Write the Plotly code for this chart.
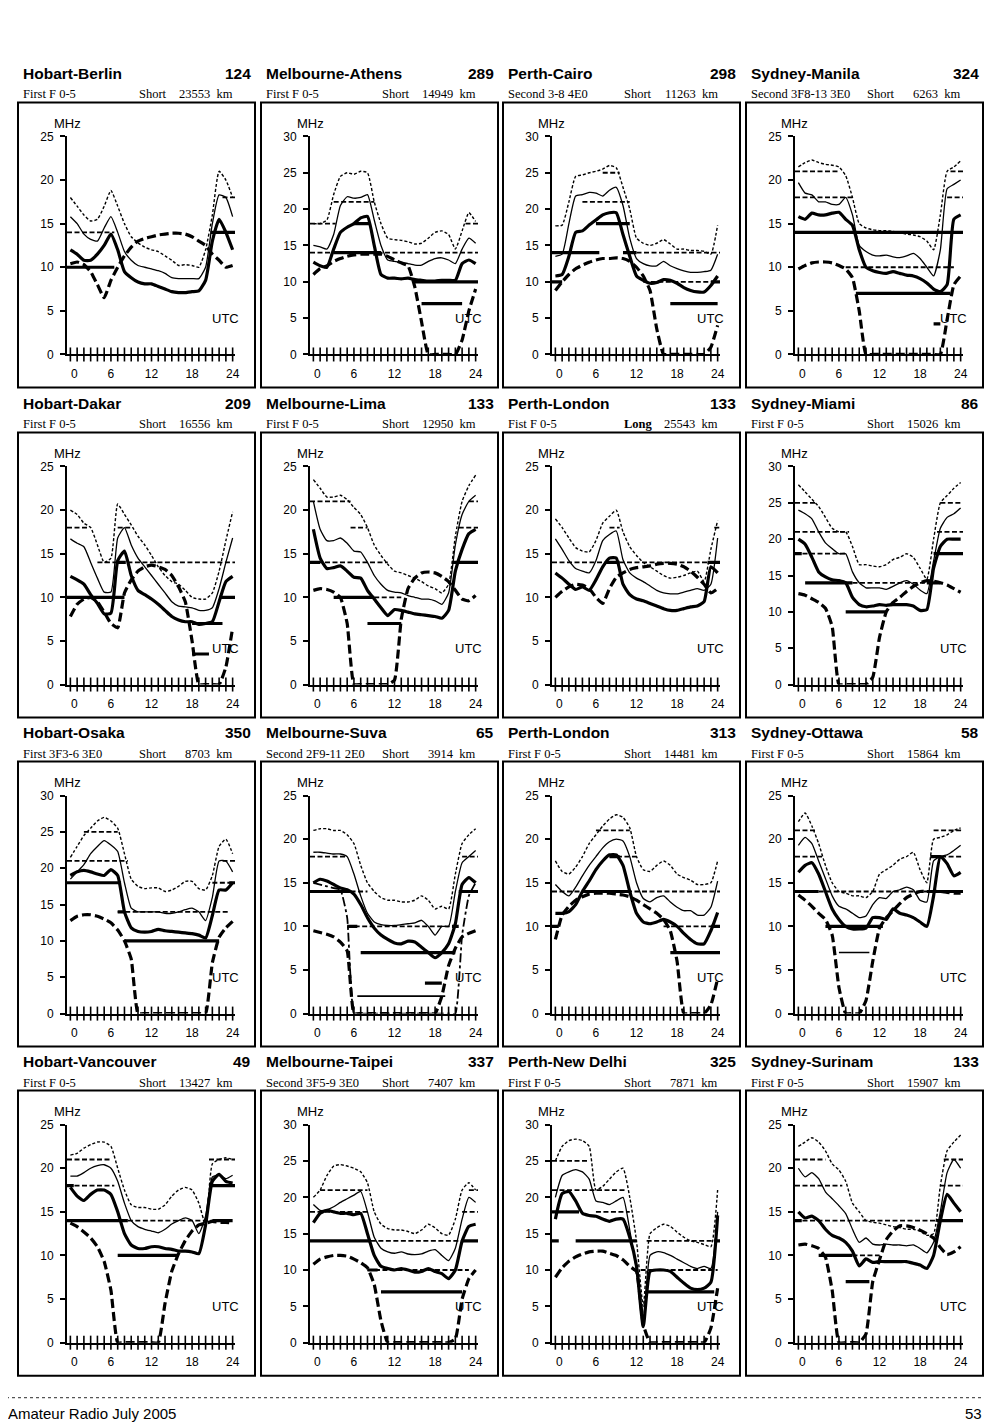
import plotly.graph_objects as go

HOURS = list(range(25))

TITLES = ["Hobart-Berlin", "Melbourne-Athens", "Perth-Cairo", "Sydney-Manila",
          "Hobart-Dakar", "Melbourne-Lima", "Perth-London", "Sydney-Miami",
          "Hobart-Osaka", "Melbourne-Suva", "Perth-London", "Sydney-Ottawa",
          "Hobart-Vancouver", "Melbourne-Taipei", "Perth-New Delhi", "Sydney-Surinam"]
NUMBERS = [124, 289, 298, 324, 209, 133, 133, 86, 350, 65, 313, 58, 49, 337, 325, 133]
MODES = ["First F 0-5", "First F 0-5", "Second 3-8 4E0", "Second 3F8-13 3E0",
         "First F 0-5", "First F 0-5", "Fist F 0-5", "First F 0-5",
         "First 3F3-6 3E0", "Second 2F9-11 2E0", "First F 0-5", "First F 0-5",
         "First F 0-5", "Second 3F5-9 3E0", "First F 0-5", "First F 0-5"]
PATHS = ["Short", "Short", "Short", "Short", "Short", "Short", "Long", "Short",
         "Short", "Short", "Short", "Short", "Short", "Short", "Short", "Short"]
DISTANCES = [23553, 14949, 11263, 6263, 16556, 12950, 25543, 15026,
             8703, 3914, 14481, 15864, 13427, 7407, 7871, 15907]
YMAX = [25, 30, 30, 25, 25, 25, 25, 30, 30, 25, 25, 25, 25, 30, 30, 25]

# band segments: (MHz, from hour, to hour, style) T=thick, d=dashed, t=thin
# Hobart-Berlin
HBE_UP = [18, 17, 16, 15.3, 15.5, 17, 18.8, 17, 15, 13.5, 12.8, 12.3, 12, 11.8, 11.3, 10.8, 10.2, 10.3, 10.2, 10, 12, 16, 21, 20, 18]
HBE_MUF = [15.8, 15, 13.8, 13.2, 13, 14.5, 15.8, 14, 11.8, 10.8, 10.2, 10, 9.8, 9.6, 9.3, 8.8, 8.7, 8.7, 8.7, 8.7, 10, 15, 18.3, 18, 15.8]
HBE_FOT = [12, 11.5, 10.8, 10.8, 11.5, 12.5, 13.8, 12, 9.5, 8.8, 8.3, 8.1, 8.1, 7.8, 7.5, 7.2, 7.1, 7.1, 7.2, 7.3, 8.5, 13, 15.5, 14, 12]
HBE_LUF = [10.4, 10.6, 10.3, 9.5, 8, 6.5, 8.5, 10, 11.3, 12.3, 13, 13.3, 13.5, 13.7, 13.8, 13.9, 13.9, 13.8, 13.5, 13, 12.5, 11.5, 10.8, 10, 10.2]
HBE_BANDS = [(14, -0.5, 6.5, 'd'), (10, -0.5, 6.5, 'T'), (14, 20.7, 24.5, 'T'), (18, 22.5, 24.5, 'd')]

# Melbourne-Athens
MAT_UP = [18, 18, 18.5, 22, 24.5, 25, 24.8, 25.2, 25, 21, 18, 16, 15.8, 15.7, 15.5, 15.2, 15.3, 16, 16.8, 17, 16.5, 14.5, 17, 19.5, 18.3]
MAT_MUF = [15, 14.8, 14.5, 16.5, 20.5, 21.7, 21.5, 21.6, 22, 18.5, 15, 13, 12.8, 12.7, 12.5, 12.3, 12.3, 12.8, 13.2, 13.3, 13, 12.5, 14.5, 16, 15.3]
MAT_FOT = [12.7, 12.2, 12, 14.5, 16.8, 17.5, 18, 18.8, 19, 15, 11, 10.5, 10.5, 10.4, 10.5, 10.3, 10.2, 10.1, 10.1, 10.2, 10.2, 10.2, 12.5, 13, 12.5]
MAT_LUF = [11, 11.8, 12.2, 12.8, 13.2, 13.5, 13.7, 13.8, 13.8, 13.8, 13.8, 13.5, 13, 12.6, 12.2, 9.3, 4.5, 0, 0, 0, 0, 0, 2, 6, 9]
MAT_BANDS = [(18, -0.5, 3.3, 'd'), (21, 3, 9, 'd'), (18, 6, 8.5, 'T'), (14, -0.5, 24.5, 'd'), (14, 3, 10, 'T'),
             (10, 15, 24.5, 'T'), (7, 16, 22, 'T'), (18, 22.5, 24.5, 'd')]

# Perth-Cairo
PCA_UP = [17.7, 17.8, 21, 24.5, 24.7, 25, 25.2, 25.5, 26, 25.7, 23, 20, 16, 15.3, 15, 15.3, 15.8, 15.2, 14.5, 14.5, 14.3, 14.3, 14.2, 13.8, 17.8]
PCA_MUF = [13.5, 13.8, 18, 21.8, 22, 22.3, 22.2, 21.8, 22.6, 23, 20.5, 16, 13.2, 12.5, 12.2, 12.2, 12.8, 12.2, 11.8, 11.5, 11.3, 11.3, 11.4, 11.6, 13.8]
PCA_FOT = [10.8, 11, 13.5, 16.8, 17, 17.8, 18.5, 19.2, 19.5, 19.5, 16.5, 13.5, 10.8, 10.2, 9.8, 9.9, 10.3, 10.2, 9.8, 9.2, 8.8, 8.6, 8.6, 9.5, 10.8]
PCA_LUF = [8.8, 10, 11, 11.8, 12.3, 12.7, 13, 13.2, 13.2, 13.3, 13.2, 12.8, 12, 10.8, 8.8, 3.5, 0, 0, 0, 0, 0, 0, 0, 1, 4]
PCA_BANDS = [(25, 7, 9.5, 'd'), (21, 4, 11, 'd'), (18, 6, 11, 'T'), (14, -0.5, 6.5, 'T'), (14, 10, 12, 'T'),
             (14, 12, 24.5, 'd'), (10, -0.5, 1, 'T'), (10, 13, 24.5, 'd'), (10, 23, 24.5, 'T'), (7, 17, 24, 'T')]

# Sydney-Manila
SMA_UP = [21.5, 22, 22.3, 22, 21.8, 21.7, 21.5, 20.5, 18, 15, 14.5, 14.3, 14.2, 14.2, 14.1, 14, 13.8, 13.7, 13.5, 13, 12, 16, 21, 21.5, 22.2]
SMA_MUF = [19.7, 18.5, 18.3, 17.5, 17.5, 17.2, 17.2, 18, 16, 12.5, 11.8, 11.4, 11.3, 11.4, 11.2, 11.1, 11.3, 11.6, 11, 10, 9, 12, 19, 19.5, 20]
SMA_FOT = [15.8, 15.5, 16.2, 16, 16, 16.2, 16.3, 15.5, 14.8, 12, 10, 9.6, 9.4, 9.3, 9.5, 9.3, 9.1, 9, 8.7, 8.2, 7.5, 7.2, 8, 15.5, 16]
SMA_LUF = [9.8, 10.2, 10.5, 10.6, 10.6, 10.5, 10.2, 9.8, 8.8, 5, 0, 0, 0, 0, 0, 0, 0, 0, 0, 0, 0, 0, 4, 8, 9]
SMA_BANDS = [(21, -0.5, 6, 'd'), (18, -0.5, 8, 'd'), (14, -0.5, 24.5, 'T'), (10, 7, 23, 'd'), (7, 8.5, 22.5, 'T'),
             (3.5, 20, 21, 'T'), (18, 22, 24.5, 'd'), (21, 22.5, 24.5, 'd')]

# Hobart-Dakar
HDA_UP = [20, 19.5, 18.5, 18, 16, 14, 14.5, 20.7, 19.5, 18.3, 17, 16, 14.8, 13.5, 12.5, 11.8, 11.5, 10.8, 10, 9.8, 9.8, 10.5, 13, 16.5, 19.8]
HDA_MUF = [16.7, 16.2, 15.8, 14, 12.2, 10.6, 10.6, 16.8, 18, 16, 14.5, 13.5, 12.5, 11.5, 10.5, 9.5, 9, 8.9, 8.8, 8.5, 8.5, 8.8, 11, 14, 16.8]
HDA_FOT = [12.4, 12, 11.5, 10.3, 9.3, 8.1, 8.2, 14.2, 15.3, 12.5, 10.8, 10.3, 9.8, 9.2, 8.5, 7.8, 7.4, 7.2, 7.2, 6.9, 7, 7.2, 9.5, 11.8, 12.4]
HDA_LUF = [7.8, 9.2, 9.8, 10, 9.5, 8.3, 7, 6.5, 10.5, 12, 13, 13.5, 13.7, 13.5, 13.2, 12.5, 11.2, 9.5, 5, 0, 0, 0, 0, 2, 6.5]
HDA_BANDS = [(18, -0.5, 2.5, 'd'), (14, 4, 24.5, 'd'), (14, 7, 8.2, 'T'), (10, -0.5, 8, 'T'), (10, 22, 24.5, 'T'),
             (7, 18, 22.5, 'T'), (3.5, 18, 20.5, 'T'), (18, 7, 9, 'd')]

# Melbourne-Lima
MLI_UP = [23.5, 22.5, 21.5, 21.5, 21.7, 21.2, 20.3, 19.5, 18, 16, 14.8, 13.8, 13, 12.8, 12.5, 12.2, 11.8, 11.3, 11, 10.5, 11.5, 17, 21, 22.8, 24]
MLI_MUF = [21, 17.8, 16.5, 16.5, 16.8, 16.2, 15.3, 15.2, 14, 12.5, 11.5, 10.8, 10.6, 10.5, 10.2, 10, 9.8, 9.8, 9.6, 9.2, 10.5, 16, 19.5, 21, 21.7]
MLI_FOT = [17.8, 14.5, 13.3, 13.4, 13.6, 13, 12.3, 12.2, 10.8, 9.8, 8.8, 7.9, 8.6, 8.5, 8.3, 8.1, 8, 7.9, 7.8, 7.6, 8.5, 13, 15.5, 17.3, 17.8]
MLI_LUF = [10.8, 11, 10.9, 10.6, 10, 7, 0, 0, 0, 0, 0, 0, 0.5, 7.5, 11, 12.2, 12.8, 12.9, 12.8, 12.4, 11.8, 10.8, 9.8, 9.6, 10.2]
MLI_BANDS = [(21, -0.5, 5.5, 'd'), (18, 5.5, 8, 'd'), (14, -0.5, 11, 'd'), (14, -0.5, 1, 'T'), (14, 20.5, 24.5, 'T'),
             (10, 3, 9, 'T'), (10, 9, 13, 'd'), (7, 8, 13, 'T'), (18, 21.5, 24.5, 'd'), (21, 23, 24.5, 'd')]

# Perth-London (long path)
PLL_UP = [19, 18, 16.8, 15.7, 15.3, 15.2, 16.5, 18.5, 19.3, 20, 17.5, 15.8, 14.8, 14, 13.5, 13, 12.5, 12.2, 12.3, 12.5, 12.8, 13, 11.8, 15.5, 18.8]
PLL_MUF = [16.7, 15.5, 14.2, 13.3, 13, 12.8, 14.2, 16.5, 17.2, 17.6, 14.3, 12.8, 12.2, 11.8, 11.3, 10.8, 10.5, 10.4, 10.4, 10.6, 10.8, 11, 10.8, 11.5, 16.8]
PLL_FOT = [12.8, 12.2, 11.5, 10.9, 11.2, 10.8, 12, 13.5, 14.5, 14.5, 11.5, 10.3, 9.8, 9.6, 9.3, 9, 8.7, 8.5, 8.5, 8.7, 8.9, 9, 9.5, 13.5, 12.8]
PLL_LUF = [10, 10.7, 11.2, 11.5, 11.4, 11, 10, 9.3, 11, 12.3, 12.8, 13.2, 13.4, 13.5, 13.6, 13.8, 13.9, 13.9, 13.8, 13.5, 13, 12.3, 11.5, 10.5, 11]
PLL_BANDS = [(14, -0.5, 24.5, 'd'), (14, 7.5, 9.5, 'T'), (14, 22.5, 24.5, 'T'), (18, 8, 9.5, 'd'), (18, 23.5, 24.5, 'd')]

# Sydney-Miami
SMI_UP = [27.5, 26.5, 25.5, 24.5, 23, 21.5, 21, 21, 19, 16.5, 16.5, 16.3, 16.2, 16.5, 17.2, 17.5, 18, 17.5, 16, 14.5, 20, 25, 26, 27, 27.8]
SMI_MUF = [24, 23.5, 22.8, 21, 19.5, 18.7, 18, 18, 15.5, 14, 13.3, 13.3, 13.3, 13.1, 13.5, 14, 14.3, 13.8, 13, 12.5, 17, 21.5, 23, 23.5, 24.3]
SMI_FOT = [20, 19.3, 17.5, 15.5, 14.8, 14.4, 14.3, 14, 12, 11, 10.7, 10.8, 11, 10.9, 11, 11, 11, 10.8, 10.2, 10.3, 16, 19, 20, 20, 20]
SMI_LUF = [12.5, 12.3, 11.8, 11.3, 10.5, 8, 0, 0, 0, 0, 0, 1, 6.5, 10, 11.3, 12, 12.8, 13.5, 14, 14.3, 14.2, 14, 13.7, 13.2, 12.7]
SMI_BANDS = [(25, -0.5, 2.5, 'd'), (21, -0.5, 7.5, 'd'), (18, -0.5, 7, 'd'), (18, -0.5, 0.5, 'T'), (14, 1, 8, 'T'),
             (14, 8, 20, 'd'), (14, 19, 21, 'T'), (10, 7, 13, 'T'), (18, 20, 24.5, 'T'), (21, 20.5, 24.5, 'd'), (25, 21, 24, 'd')]

# Hobart-Osaka
HOS_UP = [21.5, 23, 24.5, 25.5, 26.5, 27, 26.5, 25.5, 22, 18.5, 17.5, 17.2, 17.3, 17.3, 16.8, 17, 17.5, 18.2, 18.2, 17.2, 17, 19, 23, 24, 22]
HOS_MUF = [18.5, 19.5, 20.5, 22, 23, 23.8, 23.2, 22.3, 18, 14.5, 14, 14, 14, 14, 13.8, 13.8, 14, 14.3, 14.5, 14, 12.8, 16, 21, 21, 19.5]
HOS_FOT = [19, 19.5, 19.7, 19.5, 19.2, 19, 19.8, 19, 14, 11.8, 11.3, 11.2, 11.3, 11.6, 11.4, 11.3, 11.2, 11.1, 11, 10.8, 10.4, 13.5, 17, 17, 18]
HOS_LUF = [12.8, 13.4, 13.6, 13.6, 13.4, 13, 12.5, 11.5, 10, 7.5, 0, 0, 0, 0, 0, 0, 0, 0, 0, 0, 0, 7, 10.5, 11.8, 12.7]
HOS_BANDS = [(21, -0.5, 8.5, 'd'), (18, -0.5, 7.5, 'T'), (25, 2, 7, 'd'), (14, 7, 23.5, 'd'), (14, 7, 8, 'T'),
             (10, 8, 22, 'T'), (18, 21, 24.5, 'd'), (18, 23.5, 24.5, 'T'), (21, 22.5, 24.5, 'd')]

# Melbourne-Suva
MSU_UP = [21, 21.2, 21.2, 21, 21, 20.5, 19.5, 17, 15, 14, 13.3, 13, 13, 12.8, 12.8, 13, 13.5, 13, 12, 12.3, 12, 16, 19.5, 20.5, 21.2]
MSU_MUF = [18.5, 18.5, 18.4, 18.3, 18.3, 18, 16, 13.5, 11.5, 10.5, 10.2, 10.1, 10.1, 10.2, 10.3, 10.4, 10.7, 10, 9, 10, 10, 14, 17.3, 18, 18.7]
MSU_FOT = [15, 15.4, 15.2, 14.8, 14.4, 14.2, 13.7, 12.5, 11, 9.8, 9, 8.5, 8.1, 8, 8.3, 8.2, 7.6, 7, 6.4, 7, 8, 10.3, 14.8, 15.6, 15]
MSU_LUF = [9.5, 9.3, 9.1, 8.8, 8.2, 7.2, 0, 0, 0, 0, 0, 0, 0, 0, 0, 0, 0, 0, 0, 2, 5.5, 7.5, 8.8, 9.2, 9.5]
MSU_ALT = [15, 14.8, 14.6, 14.4, 14.2, 11, 0, 0, 0, 0, 0, 0, 0, 0, 0, 0, 0, 0, 0, 0, 0, 0, 9, 13.5, 15]
MSU_BANDS = [(18, -0.5, 5, 'd'), (14, -0.5, 5.5, 'T'), (14, 5.5, 8, 'd'), (10, 5, 21.5, 'd'), (10, 5, 6.5, 'T'),
             (10, 20.5, 21.5, 'T'), (7, 7, 21, 'T'), (3.5, 16.5, 19, 'T'), (2, 6.5, 19.5, 't'), (14, 21.5, 24.5, 'T'),
             (18, 22, 24.5, 'd')]

# Perth-London (short path)
PLS_UP = [17.5, 16.3, 16, 16.8, 18, 19.5, 20.5, 21.5, 22.3, 22.8, 22.5, 21.3, 18, 16.5, 16.3, 17, 17.5, 17, 16, 15.6, 15.3, 14.8, 14.8, 15, 17.5]
PLS_MUF = [14.8, 14, 13.5, 14.5, 15.8, 17, 18, 19, 19.7, 20, 19.8, 18, 15, 13.2, 12.8, 13.3, 13.5, 12.8, 12.2, 11.8, 11.8, 11.3, 11.3, 12.2, 15.2]
PLS_FOT = [11.5, 11.5, 11.7, 12.5, 14, 15.2, 16.5, 17.5, 18.2, 18.2, 17, 14, 11.5, 10.5, 10.3, 10.5, 10.8, 10.5, 10, 9.2, 8.5, 8, 8, 9.5, 11.6]
PLS_LUF = [8.5, 11.3, 12.3, 13, 13.4, 13.7, 13.8, 13.8, 13.8, 13.7, 13.6, 13.4, 13, 12.5, 12, 11.5, 10.8, 9.5, 6, 0, 0, 0, 0, 1, 4]
PLS_BANDS = [(21, 6, 11, 'd'), (18, 8, 12, 'd'), (18, 8, 9.5, 'T'), (14, -0.5, 24.5, 'd'), (14, 4, 11, 'T'),
             (10, -0.5, 0.5, 'T'), (10, 16, 24.5, 'd'), (10, 23, 24.5, 'T'), (7, 17, 24.5, 'T')]

# Sydney-Ottawa
SOT_UP = [22, 23, 21.5, 19.5, 17, 15, 14, 13.8, 13.5, 13.5, 13.3, 14, 16, 16.5, 17, 17.7, 18, 18.5, 16.5, 15, 20, 20.2, 20.5, 21, 21.3]
SOT_MUF = [19.3, 20.2, 19.5, 17.5, 15.5, 13.5, 12.3, 12, 11.5, 11, 11.2, 12.5, 13.3, 13.2, 14, 14.2, 14.5, 14.2, 13, 12.8, 17.5, 18, 18.2, 18.7, 19.3]
SOT_FOT = [16.2, 17, 17.3, 16, 14, 12, 10.8, 10, 9.7, 9.7, 9.8, 11, 11, 10.8, 12, 11.5, 11.3, 11, 10.5, 10, 13.5, 18, 17.2, 15.8, 16.2]
SOT_LUF = [13.6, 13, 12.3, 11.5, 10.8, 9, 3, 0, 0, 0, 1.5, 6, 9.8, 11, 11.8, 12.6, 13.3, 13.7, 14, 14, 14, 14, 13.9, 13.8, 13.8]
SOT_BANDS = [(21, -0.5, 2.5, 'd'), (18, -0.5, 3.5, 'd'), (14, -0.5, 3, 'T'), (14, 3, 24.5, 'd'), (14, 19, 24.5, 'T'),
             (10, 4, 12.5, 'T'), (7, 6, 10.5, 't'), (18, 20, 24.5, 'd'), (18, 19.5, 21, 'T'), (21, 20, 24.5, 'd')]

# Hobart-Vancouver
HVA_UP = [21.5, 21.7, 22.3, 22.7, 23, 23, 22.5, 20, 17.5, 15.8, 15.5, 15.5, 15.3, 15.3, 15.8, 16.8, 17.5, 17.8, 17.5, 16, 13.5, 20.5, 21, 21.2, 21]
HVA_MUF = [19.1, 19.1, 19.5, 20, 20.3, 20.4, 20, 18.5, 16, 14, 13.3, 13, 12.8, 12.6, 13, 13.6, 14, 14.3, 14, 12.5, 14.5, 19, 19.2, 18.8, 19.2]
HVA_FOT = [17.8, 16.8, 16.3, 17, 17.5, 17.5, 17, 15, 12.5, 11.2, 10.8, 10.8, 11, 11, 10.8, 10.7, 10.5, 10.5, 10.4, 10.2, 13.5, 18.5, 19.3, 18.5, 18.3]
HVA_LUF = [13.7, 13.3, 12.7, 12, 11, 9.3, 6, 0, 0, 0, 0, 0, 0, 0, 4.5, 8.2, 10.2, 11.7, 12.8, 13.5, 13.7, 13.9, 13.8, 13.8, 13.7]
HVA_BANDS = [(21, -0.5, 6, 'd'), (18, -0.5, 6.5, 'd'), (18, -0.5, 0.5, 'T'), (14, -0.5, 8.5, 'T'), (14, 8.5, 21, 'd'),
             (14, 21, 24, 'T'), (10, 7, 16, 'T'), (18, 20.5, 24.5, 'T'), (21, 20.5, 24.5, 'd')]

# Melbourne-Taipei
MTA_UP = [20, 21, 23, 24.3, 24.5, 24.3, 24, 23.5, 22, 18, 16.3, 15.7, 15.5, 15.5, 15.3, 15, 15.5, 16.3, 15.8, 15, 14.8, 17, 21, 22, 21]
MTA_MUF = [19, 18.2, 18.3, 18.7, 19.3, 19.8, 20.3, 20.8, 18, 14.5, 13, 12.5, 12.3, 12.5, 12.2, 12.1, 12.2, 12.6, 12.8, 12, 11.3, 13, 17, 20, 19.3]
MTA_FOT = [16.5, 17.8, 18.2, 18, 17.8, 17.8, 17.6, 17.8, 15, 12, 10.5, 10.2, 10, 10.2, 10, 9.7, 9.8, 10.2, 9.8, 9.5, 8.8, 10, 14, 16, 16.3]
MTA_LUF = [10.8, 11.5, 11.8, 12, 12, 11.9, 11.5, 11, 10.3, 8, 3, 0, 0, 0, 0, 0, 0, 0, 0, 0, 0, 0.5, 6, 8.8, 10]
MTA_BANDS = [(21, 1, 8, 'd'), (18, -0.5, 8, 'd'), (14, -0.5, 8.5, 'T'), (14, 8.5, 22, 'd'), (14, 22, 24.5, 'T'),
             (10, 8, 23, 'd'), (10, 8, 9.5, 'T'), (7, 10, 22, 'T'), (18, 22, 24.5, 'd'), (21, 23, 24.5, 'd')]

# Perth-New Delhi
PND_UP = [25, 27, 27.8, 28, 27.8, 27, 21, 21.5, 22.5, 23.5, 24, 20, 14, 5, 15, 15.8, 16.3, 16, 15.2, 14.5, 14, 13.8, 13.5, 13.2, 21]
PND_MUF = [20, 23, 23.5, 23.8, 23.5, 22.5, 19.5, 19.3, 19, 19.5, 20, 15.5, 10, 3, 12, 12.5, 12.4, 12, 11.5, 11, 10.5, 10.2, 10.5, 10.2, 18]
PND_FOT = [17, 20.5, 20.8, 19.5, 17.8, 17.5, 17.4, 17, 16.7, 17, 17, 14.5, 10.5, 2.2, 9.8, 10, 10, 9.8, 9, 8.2, 7.5, 7.3, 7.5, 8.3, 17.5]
PND_LUF = [9, 10.3, 11.2, 11.8, 12.2, 12.5, 12.6, 12.6, 12.3, 12, 11.4, 10.5, 9.8, 2.5, 0, 0, 0, 0, 0, 0, 0, 0, 0, 2, 7.5]
PND_BANDS = [(25, -0.5, 5, 'd'), (21, -0.5, 10.5, 'd'), (18, -0.5, 3.5, 'T'), (18, 6, 11, 'd'), (14, 3, 12, 'T'),
             (14, -0.5, 0.5, 'T'), (14, 13.5, 24, 'd'), (14, 23.5, 24.5, 'T'), (10, 11.5, 24, 'd'), (7, 13.5, 23.5, 'T')]

# Sydney-Surinam
SSU_UP = [22.5, 23, 23.5, 23, 22, 20.5, 19.8, 18.5, 16, 15, 14, 13.8, 13.7, 13.5, 13.3, 13.2, 13, 13, 12.8, 12.3, 12.5, 18, 22, 23, 23.8]
SSU_MUF = [20, 19, 19.5, 18.8, 17.3, 16.5, 15.7, 14.8, 13, 11.5, 12, 11.3, 11.2, 11.3, 11.2, 11.2, 11.1, 11.2, 10.8, 10.3, 11.5, 15, 19.5, 21, 20]
SSU_FOT = [15, 14.3, 14.5, 14, 13, 12.3, 12, 11.5, 10.5, 8.8, 9.6, 9.2, 9.3, 9.3, 9.3, 9.3, 9.3, 9.1, 8.9, 8.5, 10, 14, 17, 16, 15]
SSU_LUF = [11.2, 11.3, 11.1, 10.8, 9.8, 6, 0, 0, 0, 0, 1, 7, 9.5, 11.8, 12.8, 13.4, 13.4, 13.2, 12.9, 12.5, 12, 10.9, 10.1, 10.4, 11]
SSU_BANDS = [(21, -0.5, 4, 'd'), (18, -0.5, 6.5, 'd'), (14, -0.5, 0.5, 'T'), (14, -0.5, 20.5, 'd'), (14, 20.5, 24.5, 'T'),
             (10, 3, 8, 'T'), (10, 8, 12, 'd'), (7, 7, 10.5, 'T'), (18, 21, 24.5, 'd'), (21, 21.5, 24.5, 'd')]

PANELS = [
    (HBE_UP, HBE_MUF, HBE_FOT, HBE_LUF, HBE_BANDS, None),
    (MAT_UP, MAT_MUF, MAT_FOT, MAT_LUF, MAT_BANDS, None),
    (PCA_UP, PCA_MUF, PCA_FOT, PCA_LUF, PCA_BANDS, None),
    (SMA_UP, SMA_MUF, SMA_FOT, SMA_LUF, SMA_BANDS, None),
    (HDA_UP, HDA_MUF, HDA_FOT, HDA_LUF, HDA_BANDS, None),
    (MLI_UP, MLI_MUF, MLI_FOT, MLI_LUF, MLI_BANDS, None),
    (PLL_UP, PLL_MUF, PLL_FOT, PLL_LUF, PLL_BANDS, None),
    (SMI_UP, SMI_MUF, SMI_FOT, SMI_LUF, SMI_BANDS, None),
    (HOS_UP, HOS_MUF, HOS_FOT, HOS_LUF, HOS_BANDS, None),
    (MSU_UP, MSU_MUF, MSU_FOT, MSU_LUF, MSU_BANDS, MSU_ALT),
    (PLS_UP, PLS_MUF, PLS_FOT, PLS_LUF, PLS_BANDS, None),
    (SOT_UP, SOT_MUF, SOT_FOT, SOT_LUF, SOT_BANDS, None),
    (HVA_UP, HVA_MUF, HVA_FOT, HVA_LUF, HVA_BANDS, None),
    (MTA_UP, MTA_MUF, MTA_FOT, MTA_LUF, MTA_BANDS, None),
    (PND_UP, PND_MUF, PND_FOT, PND_LUF, PND_BANDS, None),
    (SSU_UP, SSU_MUF, SSU_FOT, SSU_LUF, SSU_BANDS, None),
]

W, H = 1000, 1428
# the page adds its own margin and a slight shrink when photographed; undo it
X_OFF, X_SCALE = 8.0, 0.995
Y_OFF, Y_SCALE = 14.6, 0.99
BOX_LEFT = [18, 261, 503, 746]
BOX_TOP = [102, 432, 761, 1090]
BOX_W, BOX_H = 237, 285

SANS = "Liberation Sans, Arial, sans-serif"
SERIF = "Liberation Serif, Times New Roman, serif"


def fx(px):
    return (px - X_OFF) / X_SCALE / W


def fy(py):
    return 1 - (py - Y_OFF) / Y_SCALE / H


fig = go.Figure()
layout = {}
annotations = []
shapes = []

thin = dict(color="black", width=1.3)
styles = {
    'T': dict(color="black", width=3.2),
    'd': dict(color="black", width=1.8, dash="5px,2.5px"),
    't': dict(color="black", width=1.6),
}

for i, (up, muf, fot, luf, bands, alt) in enumerate(PANELS):
    r, c = divmod(i, 4)
    bl, bt = BOX_LEFT[c], BOX_TOP[r]
    n = "" if i == 0 else str(i + 1)
    xa, ya = "x" + n, "y" + n

    layout["xaxis" + n] = dict(
        domain=[fx(bl + 49), fx(bl + 217)], anchor=ya, range=[-0.5, 24.35],
        showline=True, linecolor="black", linewidth=2, showgrid=False, zeroline=False,
        ticks="", tickvals=[0.6, 6, 12, 18, 24], ticktext=["0", "6", "12", "18", "24"],
        ticklabelstandoff=7, tickfont=dict(family=SANS, size=12, color="black"),
    )
    layout["yaxis" + n] = dict(
        domain=[fy(bt + 252), fy(bt + 34)], anchor=xa, range=[0, YMAX[i]],
        showline=True, linecolor="black", linewidth=2, showgrid=False, zeroline=False,
        ticks="outside", ticklen=5, tickwidth=2, tickcolor="black", dtick=5,
        ticklabelstandoff=4, tickfont=dict(family=SANS, size=12, color="black"),
    )

    common = dict(x=HOURS, mode="lines", xaxis=xa, yaxis=ya, showlegend=False,
                  hoverinfo="skip", line_shape="spline")
    fig.add_trace(go.Scatter(y=up, line=dict(color="black", width=1.4, dash="3px,2px", smoothing=0.5), **common))
    fig.add_trace(go.Scatter(y=muf, line=dict(thin, smoothing=0.5), **common))
    fig.add_trace(go.Scatter(y=luf, line=dict(color="black", width=3.2, dash="9px,4px", smoothing=0.4), **common))
    fig.add_trace(go.Scatter(y=fot, line=dict(color="black", width=3.2, smoothing=0.5), **common))
    if alt is not None:
        fig.add_trace(go.Scatter(y=alt, line=dict(color="black", width=1.8, dash="dashdot", smoothing=0.4), **common))

    for code, style in styles.items():
        sx, sy = [], []
        for f, h0, h1, s in bands:
            if s == code:
                sx += [h0, h1, None]
                sy += [f, f, None]
        if sx:
            fig.add_trace(go.Scatter(x=sx, y=sy, mode="lines", line=style, xaxis=xa, yaxis=ya,
                                     showlegend=False, hoverinfo="skip"))

    # hourly tick marks crossing the time axis
    fig.add_trace(go.Scatter(x=HOURS, y=[0] * len(HOURS), mode="markers", xaxis=xa, yaxis=ya,
                             marker=dict(symbol="line-ns", size=10, line=dict(width=1.6, color="black")),
                             cliponaxis=False, showlegend=False, hoverinfo="skip"))

    shapes.append(dict(type="rect", xref="paper", yref="paper",
                       x0=fx(bl), x1=fx(bl + BOX_W), y0=fy(bt + BOX_H), y1=fy(bt),
                       line=dict(color="black", width=2)))

    def note(text, x, y, anchor="left", font=None):
        annotations.append(dict(text=text, x=fx(x), y=fy(y), xref="paper", yref="paper",
                                xanchor=anchor, yanchor="middle", showarrow=False, font=font))

    bold = dict(family=SANS, size=15.5, color="black")
    small = dict(family=SERIF, size=12.5, color="black")
    lab = dict(family=SANS, size=13, color="black")
    note("<b>%s</b>" % TITLES[i], bl + 3, bt - 29, "left", bold)
    note("<b>%d</b>" % NUMBERS[i], bl + 235, bt - 29, "right", bold)
    note(MODES[i], bl + 3, bt - 8, "left", small)
    path = "<b>Long</b>" if PATHS[i] == "Long" else PATHS[i]
    note(path, bl + 119, bt - 8, "left", small)
    note("%d\u00a0\u00a0km" % DISTANCES[i], bl + 217, bt - 8, "right", small)
    note("MHz", bl + 49, bt + 21, "center", lab)
    note("UTC", bl + 207, bt + 216, "center", lab)

shapes.append(dict(type="line", xref="paper", yref="paper", x0=fx(6), x1=fx(984), y0=fy(1397), y1=fy(1397),
                   line=dict(color="#555", width=1.2, dash="dot")))
footer = dict(family="Liberation Sans Narrow, Arial Narrow, " + SANS, size=15, color="black")
annotations.append(dict(text="Amateur Radio July 2005", x=fx(6), y=fy(1413), xref="paper", yref="paper",
                        xanchor="left", yanchor="middle", showarrow=False, font=footer))
annotations.append(dict(text="53", x=fx(984), y=fy(1413), xref="paper", yref="paper",
                        xanchor="right", yanchor="middle", showarrow=False, font=footer))

fig.update_layout(width=W, height=H, margin=dict(l=0, r=0, t=0, b=0), autosize=False,
                  paper_bgcolor="white", plot_bgcolor="white",
                  shapes=shapes, annotations=annotations, **layout)

fig.write_html("out.html")
